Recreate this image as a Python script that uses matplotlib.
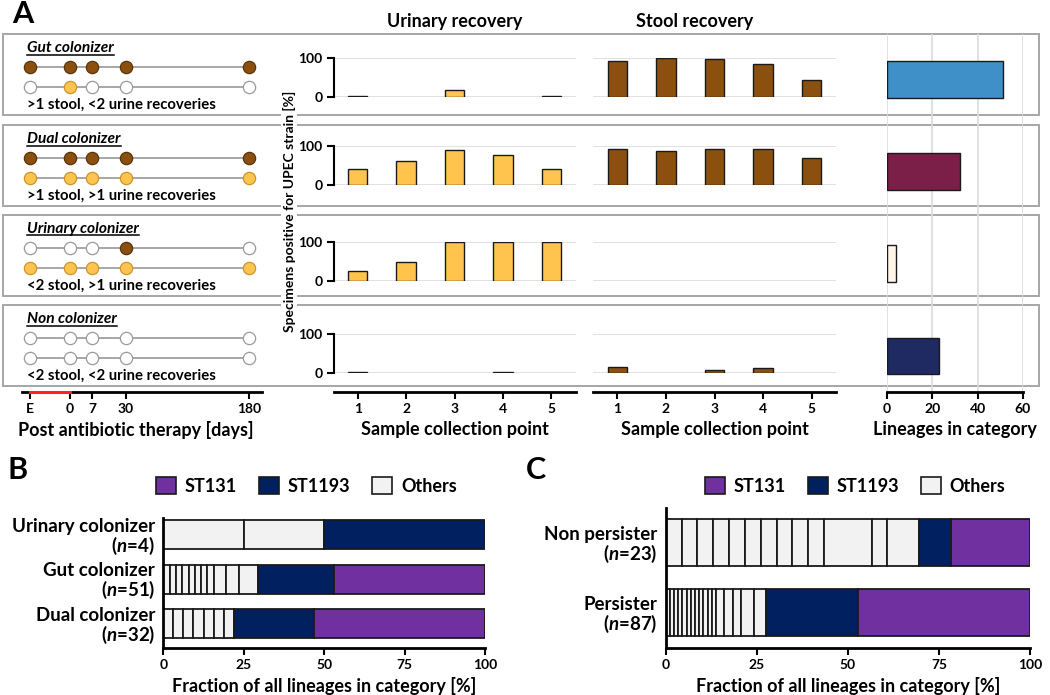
import matplotlib
matplotlib.use("Agg")
import matplotlib.pyplot as plt
from matplotlib.patches import Rectangle, Patch
from matplotlib.lines import Line2D

plt.rcParams['font.family'] = ['Lato', 'DejaVu Sans']
plt.rcParams['font.weight'] = 'bold'
plt.rcParams['axes.labelweight'] = 'bold'
plt.rcParams['mathtext.fontset'] = 'custom'
plt.rcParams['mathtext.it'] = 'Lato:bold:italic'
plt.rcParams['mathtext.rm'] = 'Lato:bold'

# ---- panel A data ----
categories = ["Gut colonizer", "Dual colonizer", "Urinary colonizer", "Non colonizer"]
descriptions = [">1 stool, <2 urine recoveries", ">1 stool, >1 urine recoveries",
                "<2 stool, >1 urine recoveries", "<2 stool, <2 urine recoveries"]
timeline_labels = ["E", "0", "7", "30", "180"]
timeline_pos = [0, 40, 62, 96, 219]   # schematic spacing, not to scale
stool_dots = [[1, 1, 1, 1, 1], [1, 1, 1, 1, 1], [0, 0, 0, 1, 0], [0, 0, 0, 0, 0]]
urine_dots = [[0, 1, 0, 0, 0], [1, 1, 1, 1, 1], [1, 1, 1, 1, 1], [0, 0, 0, 0, 0]]
collection_points = [1, 2, 3, 4, 5]
urine_pct = [[2, 0, 17, 0, 3], [40, 60, 90, 77, 40], [25, 50, 100, 100, 100], [3, 0, 0, 3, 0]]
stool_pct = [[91, 98, 97, 84, 43], [92, 87, 93, 91, 69], [0, 0, 0, 0, 0], [14, 0, 7, 11, 0]]
lineages = [51, 32, 4, 23]
lineage_colors = ['#3F8FC8', '#7B1F48', '#FFF5E6', '#1F2A63']

# ---- panel B data ----
b_cats = ["Urinary colonizer", "Gut colonizer", "Dual colonizer"]
b_n = [4, 51, 32]
b_others = [[1, 1], [1, 1, 1, 1, 1, 1, 1, 1, 2, 2, 3], [1, 1, 1, 1, 1, 1, 1]]
b_st1193 = [2, 12, 8]
b_st131 = [0, 24, 17]

# ---- panel C data ----
c_cats = ["Non persister", "Persister"]
c_n = [23, 87]
c_others = [[1] * 10 + [3, 1, 2], [1] * 12 + [2, 2, 2, 3, 3]]
c_st1193 = [2, 22]
c_st131 = [5, 41]

BROWN = '#8B5010'
YELLOW = '#FFC44E'
ST131_C = '#7030A0'
ST1193_C = '#002060'
OTHER_C = '#F2F2F2'
GRID_C = '#DCDCDC'

W, H = 1050, 695
fig = plt.figure(figsize=(W / 100, H / 100), dpi=100)


def px_axes(x0, y0, x1, y1):
    return fig.add_axes([x0 / W, 1 - y1 / H, (x1 - x0) / W, (y1 - y0) / H])


def bare(ax):
    for s in ax.spines.values():
        s.set_visible(False)
    ax.set_xticks([])
    ax.set_yticks([])
    ax.patch.set_visible(False)


def nonzero_bars(ax, xs, vals, color):
    keep = [(x, v) for x, v in zip(xs, vals) if v > 0]
    if keep:
        ax.bar([k[0] for k in keep], [k[1] for k in keep], width=0.4, color=color,
               ec='#1a1a1a', lw=1, zorder=3)


row_tops = [34, 125, 215, 305]
row_bots = [115, 206, 296, 386]
row_100 = [57.7, 146, 242.3, 333.7]
row_0 = [96.7, 184.7, 281, 372.7]

for top, bot in zip(row_tops, row_bots):
    fig.add_artist(Rectangle((3 / W, 1 - bot / H), 1036 / W, (bot - top) / H,
                             transform=fig.transFigure, fill=False,
                             ec='#A6A6A6', lw=1.4, zorder=0))

# lineages panel (spans all rows)
axl = px_axes(887, 34, 1023, 392)
axl.barh(range(4), lineages, height=0.4, color=lineage_colors, ec='#1a1a1a', lw=1, zorder=3)
axl.set_xlim(0, 60)
axl.set_ylim(3.39, -0.49)
axl.set_xticks([0, 20, 40, 60])
axl.set_yticks([])
axl.grid(axis='x', color=GRID_C, lw=1.2, zorder=0)
for s in ['top', 'right', 'left']:
    axl.spines[s].set_visible(False)
axl.spines['bottom'].set_linewidth(2)
axl.tick_params(axis='x', length=5, width=1.5, labelsize=10, pad=3)
axl.set_xlabel("Lineages in category", fontsize=13, labelpad=4)
axl.patch.set_visible(False)

schem_titles = []
for i in range(4):
    top, bot = row_tops[i], row_bots[i]
    # schematic
    axs = px_axes(3, top, 268, bot)
    bare(axs)
    axs.set_xlim(-27, 238)
    axs.set_ylim(-1.42, 2.63)
    for yrow, flags, col, ecol in [(1, stool_dots[i], BROWN, '#5a3309'),
                                   (0, urine_dots[i], YELLOW, '#c8962e')]:
        axs.plot(timeline_pos, [yrow] * 5, color='#A0A0A0', lw=1.3, zorder=1)
        for xp, f in zip(timeline_pos, flags):
            axs.scatter(xp, yrow, s=78, color=col if f else 'white',
                        ec=ecol if f else '#9a9a9a', lw=0.9, zorder=2)
    t = axs.text(-3, 1.93, categories[i], fontsize=11.2, style='italic',
                 ha='left', va='center')
    schem_titles.append(t)
    axs.text(-3, -0.92, descriptions[i], fontsize=10.7, ha='left', va='center')

    # urinary recovery
    axu = px_axes(333.5, row_100[i], 575.5, row_0[i])
    nonzero_bars(axu, collection_points, urine_pct[i], YELLOW)
    axu.set_xlim(0.5, 5.5)
    axu.set_ylim(0, 100)
    axu.set_yticks([0, 100])
    axu.set_xticks([])
    axu.grid(axis='y', color=GRID_C, lw=1.2, zorder=0)
    for s in ['top', 'right', 'bottom']:
        axu.spines[s].set_visible(False)
    axu.spines['left'].set_linewidth(1.5)
    axu.tick_params(axis='y', length=5, width=1.5, labelsize=10, pad=3)
    axu.patch.set_visible(False)

    # stool recovery
    axt = px_axes(593, row_100[i], 836, row_0[i])
    nonzero_bars(axt, collection_points, stool_pct[i], BROWN)
    axt.set_xlim(0.5, 5.5)
    axt.set_ylim(0, 100)
    axt.set_yticks([0, 100])
    axt.set_yticklabels([])
    axt.set_xticks([])
    axt.tick_params(axis='y', length=0)
    axt.grid(axis='y', color=GRID_C, lw=1.2, zorder=0)
    for s in axt.spines.values():
        s.set_visible(False)
    axt.patch.set_visible(False)

# bottom axes of panel A
axtl = px_axes(3, 391, 268, 392)
axtl.set_xlim(-27, 238)
axtl.set_ylim(0, 1)
axtl.set_yticks([])
axtl.set_xticks(timeline_pos)
axtl.set_xticklabels(timeline_labels)
for s in ['top', 'right', 'left']:
    axtl.spines[s].set_visible(False)
axtl.spines['bottom'].set_linewidth(2)
axtl.spines['bottom'].set_bounds(-8, 232)
axtl.plot([timeline_pos[0], timeline_pos[1]], [0, 0], color='#FF2020', lw=2.2,
          clip_on=False, zorder=5)
axtl.tick_params(axis='x', length=5, width=1.5, labelsize=10, pad=3)
axtl.set_xlabel("Post antibiotic therapy [days]", fontsize=13, labelpad=4)
axtl.patch.set_visible(False)

for x0, x1 in [(333.5, 575.5), (593, 836)]:
    axb = px_axes(x0, 391, x1, 392)
    axb.set_xlim(0.5, 5.5)
    axb.set_ylim(0, 1)
    axb.set_yticks([])
    axb.set_xticks(collection_points)
    for s in ['top', 'right', 'left']:
        axb.spines[s].set_visible(False)
    axb.spines['bottom'].set_linewidth(2)
    axb.tick_params(axis='x', length=5, width=1.5, labelsize=10, pad=3)
    axb.set_xlabel("Sample collection point", fontsize=13, labelpad=4)
    axb.patch.set_visible(False)

fig.text(455 / W, 1 - 22 / H, "Urinary recovery", fontsize=13, ha='center', va='center')
fig.text(695 / W, 1 - 22 / H, "Stool recovery", fontsize=13, ha='center', va='center')
fig.text(289 / W, 1 - 211 / H, "Specimens positive for UPEC strain [%]", fontsize=10,
         rotation=90, ha='center', va='center',
         bbox=dict(fc='white', ec='none', pad=1))
fig.text(12 / W, 1 - 14 / H, "A", fontsize=22, ha='left', va='center')
fig.text(8 / W, 1 - 470 / H, "B", fontsize=22, ha='left', va='center')
fig.text(526 / W, 1 - 470 / H, "C", fontsize=22, ha='left', va='center')


def stacked(ax, cats, ns, others, st1193, st131, height):
    for i in range(len(cats)):
        left = 0
        segs = [(v, OTHER_C) for v in others[i]] + [(st1193[i], ST1193_C), (st131[i], ST131_C)]
        for v, c in segs:
            if v == 0:
                continue
            w = v / ns[i] * 100
            ax.barh(i, w, left=left, height=height, color=c, ec='#1a1a1a', lw=1.3)
            left += w
    ax.set_yticks(range(len(cats)))
    ax.set_yticklabels([f"{c}\n($n$={n})" for c, n in zip(cats, ns)],
                       fontsize=13.5, linespacing=1.0)
    ax.set_xlim(0, 100)
    ax.set_xticks([0, 25, 50, 75, 100])
    for s in ['top', 'right']:
        ax.spines[s].set_visible(False)
    ax.spines['bottom'].set_linewidth(2)
    ax.spines['left'].set_linewidth(2)
    ax.tick_params(axis='y', length=0, pad=6)
    ax.tick_params(axis='x', length=5, width=1.5, labelsize=10, pad=3)
    ax.set_xlabel("Fraction of all lineages in category [%]", fontsize=13, labelpad=4)
    handles = [Patch(fc=ST131_C, ec='#1a1a1a', lw=1.2, label='ST131'),
               Patch(fc=ST1193_C, ec='#1a1a1a', lw=1.2, label='ST1193'),
               Patch(fc=OTHER_C, ec='#1a1a1a', lw=1.2, label='Others')]
    return handles


axB = px_axes(163.3, 518, 485, 648)
hB = stacked(axB, b_cats, b_n, b_others, b_st1193, b_st131, 0.65)
axB.set_ylim(2.54, -0.37)
axB.legend(handles=hB, loc='center left', bbox_to_anchor=(156 / W, 1 - 486 / H),
           bbox_transform=fig.transFigure, ncol=3, frameon=False, fontsize=13,
           handlelength=1.1, handleheight=1.1, handletextpad=0.5,
           columnspacing=1.2, borderaxespad=0, borderpad=0)

axC = px_axes(665.7, 508, 1030, 648)
hC = stacked(axC, c_cats, c_n, c_others, c_st1193, c_st131, 0.667)
axC.set_ylim(1.504, -0.496)
axC.legend(handles=hC, loc='center left', bbox_to_anchor=(705 / W, 1 - 486 / H),
           bbox_transform=fig.transFigure, ncol=3, frameon=False, fontsize=13,
           handlelength=1.1, handleheight=1.1, handletextpad=0.5,
           columnspacing=1.2, borderaxespad=0, borderpad=0)

# underline the schematic titles
fig.canvas.draw()
renderer = fig.canvas.get_renderer()
for t in schem_titles:
    bb = t.get_window_extent(renderer)
    y = (bb.y0 + 0.5) / H
    fig.add_artist(Line2D([bb.x0 / W, bb.x1 / W], [y, y], color='black', lw=1.1,
                          transform=fig.transFigure))

fig.savefig("out.png", dpi=100)
